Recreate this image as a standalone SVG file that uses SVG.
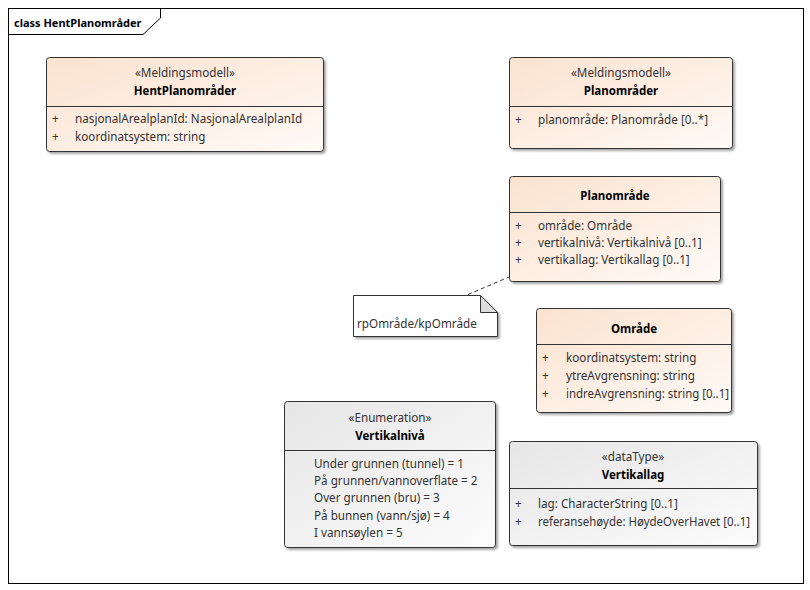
<svg xmlns="http://www.w3.org/2000/svg" width="810" height="590" viewBox="0 0 810 590">
<defs>
<linearGradient id="peach" x1="0" y1="0" x2="1" y2="1">
<stop offset="0" stop-color="#fbe2cf"/>
<stop offset="1" stop-color="#fffaf6"/>
</linearGradient>
<linearGradient id="gray" x1="0" y1="0" x2="1" y2="1">
<stop offset="0" stop-color="#e6e6e6"/>
<stop offset="1" stop-color="#fcfcfc"/>
</linearGradient>
<filter id="sh" x="-10%" y="-10%" width="130%" height="130%">
<feGaussianBlur in="SourceAlpha" stdDeviation="1.2"/>
<feOffset dx="2" dy="2" result="b"/>
<feComponentTransfer><feFuncA type="linear" slope="0.35"/></feComponentTransfer>
<feMerge><feMergeNode/><feMergeNode in="SourceGraphic"/></feMerge>
</filter>
</defs>
<style>
text{font-family:"Noto Sans","Open Sans","DejaVu Sans",sans-serif;font-size:11.7px;fill:#1e1e1e}
.n{font-weight:bold;text-anchor:middle;fill:#000;font-size:11.5px}
.s{text-anchor:middle;fill:#333}
.a{fill:#333}
.p{fill:#333}
.box{stroke:#333;stroke-width:1;filter:url(#sh)}
.pb{fill:url(#peach)}
.gb{fill:url(#gray)}
.div{stroke:#333;stroke-width:1}
.frame{fill:#fff;stroke:#000;stroke-width:1}
.dash{stroke:#333;stroke-width:1;stroke-dasharray:4,3;fill:none}
</style>
<rect width="810" height="590" fill="#fff"/>
<g id="frame">
<rect class="frame" x="8.5" y="8.5" width="795" height="575"/>
<path d="M8.5 34.5 H143 L160.5 18 V8.5" fill="none" stroke="#000"/>
<text x="14" y="27" style="font-weight:bold;fill:#000;font-size:11px">class HentPlanområder</text>
</g>
<g id="connectors">
<path class="dash" d="M468 294.5 L509 277"/>
</g>
<g id="HentPlanomrader">
<rect class="box pb" x="46.5" y="57.5" width="277" height="94" rx="3"/>
<line class="div" x1="46.5" y1="106.5" x2="323.5" y2="106.5"/>
<text class="s" x="185" y="77">«Meldingsmodell»</text>
<text class="n" x="185" y="95">HentPlanområder</text>
<text class="p" x="52" y="123">+</text>
<text class="a" x="75" y="123">nasjonalArealplanId: NasjonalArealplanId</text>
<text class="p" x="52" y="141">+</text>
<text class="a" x="75" y="141">koordinatsystem: string</text>
</g>
<g id="Planomrader">
<rect class="box pb" x="509.5" y="57.5" width="223" height="91" rx="3"/>
<line class="div" x1="509.5" y1="106.5" x2="732.5" y2="106.5"/>
<text class="s" x="621" y="77">«Meldingsmodell»</text>
<text class="n" x="621" y="95">Planområder</text>
<text class="p" x="515" y="124">+</text>
<text class="a" x="538" y="124">planområde: Planområde [0..*]</text>
</g>
<g id="Planomrade">
<rect class="box pb" x="509.5" y="176.5" width="211" height="105" rx="3"/>
<line class="div" x1="509.5" y1="212.5" x2="720.5" y2="212.5"/>
<text class="n" x="615" y="200">Planområde</text>
<text class="p" x="515" y="230">+</text>
<text class="a" x="538" y="230">område: Område</text>
<text class="p" x="515" y="247">+</text>
<text class="a" x="538" y="247">vertikalnivå: Vertikalnivå [0..1]</text>
<text class="p" x="515" y="264">+</text>
<text class="a" x="538" y="264">vertikallag: Vertikallag [0..1]</text>
</g>
<g id="note">
<path d="M353.5 295.5 H480.5 L497.5 312.5 V336.5 H353.5 Z" fill="#fff" stroke="#333" filter="url(#sh)"/>
<path d="M480.5 295.5 V312.5 H497.5 Z" fill="#ddd" stroke="#333"/>
<text class="a" x="357" y="328">rpOmråde/kpOmråde</text>
</g>
<g id="Omrade">
<rect class="box pb" x="536.5" y="308.5" width="195" height="104" rx="3"/>
<line class="div" x1="536.5" y1="344.5" x2="731.5" y2="344.5"/>
<text class="n" x="634" y="333">Område</text>
<text class="p" x="542" y="362">+</text>
<text class="a" x="566" y="362">koordinatsystem: string</text>
<text class="p" x="542" y="380">+</text>
<text class="a" x="566" y="380">ytreAvgrensning: string</text>
<text class="p" x="542" y="398">+</text>
<text class="a" x="566" y="398" textLength="163" lengthAdjust="spacingAndGlyphs">indreAvgrensning: string [0..1]</text>
</g>
<g id="Vertikalniva">
<rect class="box gb" x="284.5" y="401.5" width="211" height="146" rx="3"/>
<line class="div" x1="284.5" y1="450.5" x2="495.5" y2="450.5"/>
<text class="s" x="390" y="422">«Enumeration»</text>
<text class="n" x="390" y="440">Vertikalnivå</text>
<text class="a" x="314" y="468">Under grunnen (tunnel) = 1</text>
<text class="a" x="314" y="485">På grunnen/vannoverflate = 2</text>
<text class="a" x="314" y="502">Over grunnen (bru) = 3</text>
<text class="a" x="314" y="520">På bunnen (vann/sjø) = 4</text>
<text class="a" x="314" y="537">I vannsøylen = 5</text>
</g>
<g id="Vertikallag">
<rect class="box gb" x="509.5" y="441.5" width="248" height="104" rx="3"/>
<line class="div" x1="509.5" y1="488.5" x2="757.5" y2="488.5"/>
<text class="s" x="633" y="461">«dataType»</text>
<text class="n" x="633" y="479">Vertikallag</text>
<text class="p" x="515" y="508">+</text>
<text class="a" x="538" y="508">lag: CharacterString [0..1]</text>
<text class="p" x="515" y="526">+</text>
<text class="a" x="538" y="526" textLength="212" lengthAdjust="spacingAndGlyphs">referansehøyde: HøydeOverHavet [0..1]</text>
</g>
</svg>
